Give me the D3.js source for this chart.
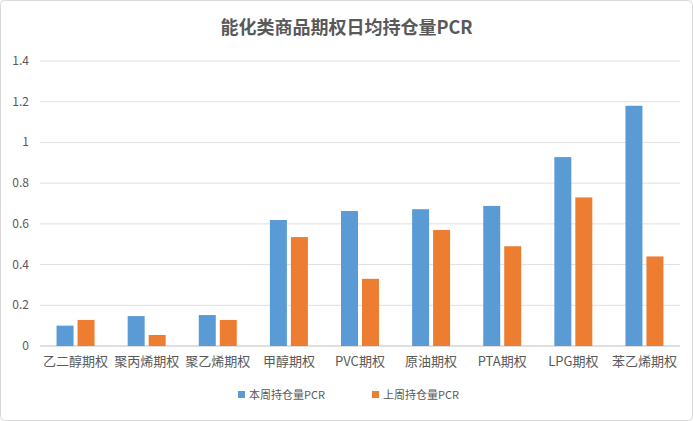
<!DOCTYPE html>
<html><head><meta charset="utf-8">
<script src="https://cdn.jsdelivr.net/npm/d3@7"></script>
<style>body{margin:0;background:#fff;font-family:"Noto Sans CJK SC",sans-serif;}</style>
</head><body>
<script>
let cats=["乙二醇期权","聚丙烯期权","聚乙烯期权","甲醇期权","PVC期权","原油期权","PTA期权","LPG期权","苯乙烯期权"];
let thisWeek=[0.10,0.147,0.152,0.619,0.663,0.672,0.688,0.928,1.18];
let lastWeek=[0.128,0.054,0.128,0.535,0.33,0.57,0.49,0.73,0.44];
let yTicks=[0,0.2,0.4,0.6,0.8,1,1.2,1.4];
let names=["本周持仓量PCR","上周持仓量PCR"];
let colors=["#5b9bd5","#ed7d31"];

let W=693,H=421,padL=40,padR=680,padT=61,padB=346;
let svg=d3.select("body").append("svg").attr("width",W).attr("height",H);
svg.append("rect").attr("x",0.5).attr("y",0.5).attr("width",W-1).attr("height",H-1).attr("rx",4)
  .attr("fill","#fff").attr("stroke","#d9d9d9");
svg.append("text").attr("x",W/2).attr("y",34).attr("text-anchor","middle")
  .style("font-size","18px").style("font-weight","bold").attr("fill","#595959").text("能化类商品期权日均持仓量PCR");

let x=d3.scaleBand().domain(cats).range([padL,padR]);
let y=d3.scaleLinear().domain([0,1.4]).range([padB,padT]);

svg.append("g").selectAll("line").data(yTicks).enter().append("line")
  .attr("x1",padL).attr("x2",padR).attr("y1",d=>y(d)).attr("y2",d=>y(d))
  .attr("stroke",d=>d==0?"#bfbfbf":"#e0e0e0");
svg.append("g").selectAll("text").data(yTicks).enter().append("text")
  .attr("x",29).attr("y",d=>y(d)+4).attr("text-anchor","end")
  .style("font-size","12px").attr("fill","#595959").text(d=>d);

let bw=17;
[thisWeek,lastWeek].forEach((s,k)=>{
  svg.append("g").selectAll("rect").data(s).enter().append("rect")
    .attr("x",(d,i)=>x(cats[i])+x.bandwidth()/2+(k==0?-bw-2:2))
    .attr("y",d=>y(d)).attr("width",bw).attr("height",d=>padB-y(d)).attr("fill",colors[k]);
});
svg.append("g").selectAll("text").data(cats).enter().append("text")
  .attr("x",d=>x(d)+x.bandwidth()/2).attr("y",366).attr("text-anchor","middle")
  .style("font-size","13px").attr("fill","#595959").text(d=>d);

let lg=svg.append("g");
names.forEach((n,i)=>{
  let lx=238+i*134;
  lg.append("rect").attr("x",lx).attr("y",391).attr("width",7).attr("height",7).attr("fill",colors[i]);
  lg.append("text").attr("x",lx+11).attr("y",398.5).style("font-size","11px").attr("fill","#595959").text(n);
});
</script>
</body></html>
